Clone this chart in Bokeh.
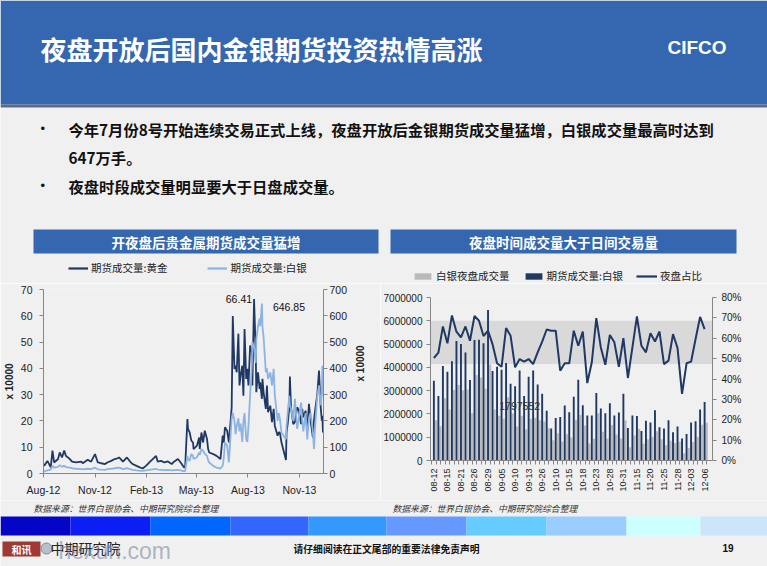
import math
import pandas as pd
from bokeh.plotting import figure
from bokeh.layouts import column, row
from bokeh.models import (Range1d, LinearAxis, FixedTicker, Legend, Label,
                          DatetimeTickFormatter, PrintfTickFormatter, ColumnDataSource,
                          BoxAnnotation)
from bokeh.transform import dodge
from bokeh.embed import file_html
from bokeh.resources import INLINE
from bokeh.core.properties import value

# ---------------- texts ----------------
title_text = "夜盘开放后国内金银期货投资热情高涨"
brand_text = "CIFCO"
bullet_1a = "今年7月份8号开始连续交易正式上线，夜盘开放后金银期货成交量猛增，白银成交量最高时达到"
bullet_1b = "647万手。"
bullet_2 = "夜盘时段成交量明显要大于日盘成交量。"
left_title = "开夜盘后贵金属期货成交量猛增"
right_title = "夜盘时间成交量大于日间交易量"
source_text = "数据来源：世界白银协会、中期研究院综合整理"
disclaimer = "请仔细阅读在正文尾部的重要法律免责声明"
page_no = "19"
axis_unit = "x 10000"

# ---------------- left chart data (x 10000 lots) ----------------
vol_dates = [
    "2012-08-02", "2012-08-08", "2012-08-14", "2012-08-17", "2012-08-20", "2012-08-27", "2012-08-30", "2012-09-03", "2012-09-07", "2012-09-10",
    "2012-09-17", "2012-09-21", "2012-09-28", "2012-10-08", "2012-10-10", "2012-10-19", "2012-10-25", "2012-11-01", "2012-11-06", "2012-11-12",
    "2012-11-19", "2012-11-23", "2012-11-30", "2012-12-06", "2012-12-10", "2012-12-14", "2012-12-21", "2012-12-28", "2013-01-04", "2013-01-07",
    "2013-01-14", "2013-01-18", "2013-01-25", "2013-01-31", "2013-02-06", "2013-02-18", "2013-02-21", "2013-02-27", "2013-03-05", "2013-03-11",
    "2013-03-18", "2013-03-22", "2013-03-29", "2013-04-03", "2013-04-09", "2013-04-11",
    "2013-04-15", "2013-04-16", "2013-04-19", "2013-04-22", "2013-04-25", "2013-04-26", "2013-05-02", "2013-05-06", "2013-05-07", "2013-05-10",
    "2013-05-13", "2013-05-16", "2013-05-20", "2013-05-22", "2013-05-24", "2013-05-31", "2013-06-06", "2013-06-13", "2013-06-17", "2013-06-19",
    "2013-06-21", "2013-06-25", "2013-06-28", "2013-07-03", "2013-07-05", "2013-07-08", "2013-07-10", "2013-07-12", "2013-07-15", "2013-07-17",
    "2013-07-19", "2013-07-22", "2013-07-24", "2013-07-26", "2013-07-29", "2013-07-31", "2013-08-02", "2013-08-05", "2013-08-08", "2013-08-09",
    "2013-08-12", "2013-08-15", "2013-08-16", "2013-08-19", "2013-08-22", "2013-08-23", "2013-08-26", "2013-08-27", "2013-08-29", "2013-09-02",
    "2013-09-04", "2013-09-06", "2013-09-10", "2013-09-13", "2013-09-16", "2013-09-18", "2013-09-23", "2013-09-25",
    "2013-09-27", "2013-09-30", "2013-10-08", "2013-10-09", "2013-10-11", "2013-10-14", "2013-10-15", "2013-10-17", "2013-10-21", "2013-10-24",
    "2013-10-28", "2013-10-31", "2013-11-04", "2013-11-06", "2013-11-08", "2013-11-12", "2013-11-15", "2013-11-18", "2013-11-21", "2013-11-25",
    "2013-11-27", "2013-11-29", "2013-12-03", "2013-12-06", "2013-12-09", "2013-12-11", "2013-12-12", "2013-12-13",
]
gold_vol = [
    2.9, 4.8, 2.3, 8.7, 4.2, 5.5, 8.0, 6.1, 8.7, 6.7,
    5.5, 4.5, 4.2, 4.5, 3.9, 5.2, 4.5, 7.4, 4.2, 3.9,
    3.6, 4.2, 4.8, 5.5, 5.7, 6.1, 4.5, 6.1, 4.2, 3.6,
    2.9, 2.5, 1.9, 2.9, 4.2, 6.7, 4.5, 4.8, 4.2, 4.6,
    3.6, 4.5, 5.5, 4.2, 2.3, 2.5,
    20.7, 17.0, 15.6, 12.5, 11.8, 9.3, 10.6, 13.7, 9.3, 15.6,
    11.8, 16.3, 13.1, 9.3, 8.0, 7.4, 6.7, 5.5, 14.4, 11.8,
    17.6, 16.3, 11.8, 25.0, 59.9, 39.8, 41.0, 38.5, 53.2, 33.5,
    37.3, 41.0, 29.6, 55.0, 36.0, 39.8, 33.5, 48.7, 46.2, 33.5,
    66.41, 46.2, 30.9, 38.5, 32.2, 34.7, 28.4, 36.0, 30.9, 24.6,
    33.5, 23.3, 25.8, 19.5, 24.6, 18.2, 14.4, 15.6,
    15.6, 11.8, 5.1, 15.6, 18.8, 25.2, 36.9, 25.2, 18.8, 19.5,
    25.2, 23.9, 18.8, 24.6, 21.4, 23.9, 16.3, 26.5, 20.1, 13.7,
    20.1, 23.9, 30.3, 39.2, 25.2, 20.1, 22.0, 15.6,
]
silver_vol = [
    8, 12, 15, 30, 22, 25, 32, 25, 30, 24,
    22, 20, 18, 17, 16, 18, 17, 22, 16, 15,
    14, 17, 18, 20, 21, 22, 17, 20, 16, 14,
    12, 11, 10, 12, 14, 18, 15, 14, 13, 14,
    12, 13, 14, 12, 8, 10,
    67, 55, 48, 74, 67, 55, 62, 80, 70, 93,
    87, 75, 67, 50, 42, 29, 22, 19, 29, 60,
    118, 106, 42, 210, 230, 200, 150, 180, 210, 160,
    190, 120, 200, 230, 130, 120, 180, 300, 410, 500,
    480, 420, 510, 560, 590, 560, 646.85, 560, 520, 385,
    400, 360, 385, 335, 398, 300, 200, 230,
    210, 156, 130, 180, 230, 296, 260, 246, 200, 284,
    170, 210, 270, 200, 160, 230, 130, 210, 230, 160,
    93, 180, 296, 335, 260, 300, 410, 300,
]
gold_name = "期货成交量:黄金"
silver_name = "期货成交量:白银"
left_x_start, left_x_end = "2012-08-01", "2013-12-14"
month_ticks = ["2012-08-01", "2012-11-01", "2013-02-01", "2013-05-01", "2013-08-01", "2013-11-01"]
gold_ticks = [0, 10, 20, 30, 40, 50, 60, 70]
silver_ticks = [0, 100, 200, 300, 400, 500, 600, 700]

# ---------------- right chart data ----------------
day_tick_labels = ["08-12", "08-15", "08-21", "08-26", "08-29", "09-05", "09-10", "09-13", "09-26", "10-10",
                   "10-15", "10-18", "10-23", "10-28", "10-31", "11-15", "11-20", "11-25", "11-28", "12-03", "12-06"]
silver_total = [
    3430000, 2770000, 4060000, 3810000, 4260000, 5130000, 5000000, 4640000, 3460000, 5170000,
    5190000, 5040000, 6468500, 3840000, 4030000, 3900000, 4190000, 3300000, 3190000, 3860000,
    2770000, 3600000, 3860000, 3260000, 2870000, 2140000, 1370000, 1830000, 1870000, 2360000,
    2070000, 2740000, 3470000, 2370000, 1930000, 1930000, 2900000, 2230000, 2030000, 2460000,
    1930000, 2060000, 2870000, 1400000, 1930000, 1910000, 1270000, 1710000, 1630000, 2160000,
    1430000, 1370000, 1730000, 1210000, 1460000, 940000, 1140000, 1630000, 1690000, 2190000,
    2510000,
]
night_vol = [
    1730000, 1470000, 2670000, 2190000, 3030000, 3240000, 3020000, 3050000, 2030000, 3670000,
    3560000, 3080000, 4120000, 2190000, 1920000, 1797552, 2720000, 2020000, 1460000, 1920000,
    1340000, 1790000, 1830000, 1730000, 1670000, 1380000, 870000, 1170000, 820000, 1130000,
    990000, 1750000, 1950000, 1500000, 730000, 930000, 2030000, 1240000, 950000, 1520000,
    1120000, 950000, 1720000, 570000, 1070000, 1350000, 720000, 910000, 1020000, 1260000,
    910000, 650000, 850000, 750000, 810000, 310000, 540000, 790000, 1010000, 1540000,
    1620000,
]
night_ratio = [
    50.3, 52.9, 65.8, 57.5, 71.2, 63.2, 60.4, 65.8, 58.8, 70.9,
    68.6, 61.1, 63.7, 57.1, 47.7, 46.0, 65.0, 61.2, 45.7, 49.8,
    48.5, 49.8, 47.3, 53.1, 58.3, 64.3, 63.7, 63.7, 44.1, 47.7,
    47.7, 63.7, 56.3, 63.3, 38.0, 48.2, 69.9, 55.5, 47.0, 61.6,
    58.0, 46.0, 60.1, 40.5, 55.5, 70.7, 56.3, 53.1, 62.5, 58.4,
    63.3, 47.3, 49.0, 62.0, 55.2, 32.7, 47.7, 48.5, 59.6, 70.5,
    64.5,
]
night_name = "白银夜盘成交量"
total_name = "期货成交量:白银"
ratio_name = "夜盘占比"
labelled_bar = 15
highlight_band = [4140000, 6000000]
volume_ticks = [0, 1000000, 2000000, 3000000, 4000000, 5000000, 6000000, 7000000]
ratio_ticks = [0, 10, 20, 30, 40, 50, 60, 70, 80]

# ---------------- footer strip ----------------
strip_edges = [0, 70, 150, 230, 308, 386, 466, 546, 626, 700, 767]
strip_colors = ["#0505C8", "#0A1EF5", "#0066FF", "#3366FF", "#3399FF", "#6699FF",
                "#66CCFF", "#99CCFF", "#CCFFFF", "#CCE5FA"]

# ---------------- style ----------------
BG = "#F0F0F0"
BLUE = "#3467AF"
NAVY = "#1F3864"
LIGHT = "#8DB3E2"
GRAYBAR = "#BABABA"
BAND = "#D9D9D9"
AXIS = "#868686"
CJK = "Noto Sans CJK SC"
LAT = "Liberation Sans"
TOP_H = 283


def ms(s):
    return float(pd.Timestamp(s).value / 1e6)


def deco_fig(w, h, y0, y1):
    p = figure(width=w, height=h, x_range=Range1d(0, w), y_range=Range1d(y1, y0),
               x_axis_location=None, y_axis_location=None, toolbar_location=None,
               output_backend="svg", min_border=0)
    p.grid.visible = False
    p.outline_line_color = None
    p.background_fill_color = BG
    p.border_fill_color = BG
    return p


def style_axis(ax, size="10.5px"):
    ax.axis_line_color = AXIS
    ax.major_tick_line_color = AXIS
    ax.minor_tick_line_color = None
    ax.major_tick_in = 0
    ax.major_tick_out = 4
    ax.major_label_text_font = LAT
    ax.major_label_text_font_size = size
    ax.major_label_text_color = "#222222"
    ax.axis_label_text_font = LAT
    ax.axis_label_text_font_size = "10px"
    ax.axis_label_text_font_style = "bold"
    ax.axis_label_text_color = "#222222"


def make_legend(items, loc, gw, gh, spacing):
    return Legend(items=items, location=loc, orientation="horizontal", glyph_width=gw,
                  glyph_height=gh, label_height=12, label_standoff=3, spacing=spacing,
                  padding=0, margin=0, label_text_font=CJK, label_text_font_size="10.5px",
                  label_text_color="#222222", background_fill_alpha=0, border_line_color=None)


# ================= top decoration (incl. legends) =================
top = deco_fig(767, TOP_H, 0, TOP_H)
top.quad(left=[0], right=[767], top=[0], bottom=[104], fill_color=BLUE, line_color=None)
top.quad(left=[0], right=[767], top=[104], bottom=[107], fill_color="#5A6D88", line_color=None)
top.text(x=[40], y=[48], text=[title_text], text_font=value(CJK), text_font_style="bold",
         text_font_size="26px", text_color="white", text_baseline="middle")
top.text(x=[667], y=[47], text=[brand_text], text_font=value(LAT), text_font_style="bold",
         text_font_size="19px", text_color="white", text_baseline="middle")
top.text(x=[40, 40], y=[128, 185], text=["•", "•"], text_font=value(LAT),
         text_font_size="13px", text_color="#111111", text_baseline="middle")
top.text(x=[68, 68, 68], y=[128, 156, 185], text=[bullet_1a, bullet_1b, bullet_2],
         text_font=value(CJK), text_font_style="bold", text_font_size="15.3px",
         text_color="#111111", text_baseline="middle")
top.quad(left=[33, 390], right=[378, 736], top=[229, 229], bottom=[253, 253],
         fill_color=BLUE, line_color=None)
top.text(x=[205.5, 563], y=[241, 241], text=[left_title, right_title], text_font=value(CJK),
         text_font_style="bold", text_font_size="13.5px", text_color="white",
         text_baseline="middle", text_align="center")

# legend keys: off-canvas stand-ins styled like the chart series
off = [-60, -50]
k_gold = top.line(x=off, y=off, line_color=NAVY, line_width=2.2)
k_silver = top.line(x=off, y=off, line_color=LIGHT, line_width=2.2)
k_night = top.vbar(x=off, top=off, bottom=[-70, -70], width=1, fill_color=GRAYBAR, line_color=None)
k_total = top.vbar(x=off, top=off, bottom=[-70, -70], width=1, fill_color=NAVY, line_color=None)
k_ratio = top.line(x=off, y=off, line_color=NAVY, line_width=2.2)
top.add_layout(make_legend([(gold_name, [k_gold]), (silver_name, [k_silver])],
                           (68, 8), 20, 12, 40), "center")
top.add_layout(make_legend([(night_name, [k_night]), (total_name, [k_total]), (ratio_name, [k_ratio])],
                           (412, 0), 21, 8, 13), "center")

# ================= left chart =================
lsrc = ColumnDataSource(dict(date=pd.to_datetime(vol_dates), gold=gold_vol, silver=silver_vol))
left = figure(width=380, height=500 - TOP_H, x_axis_type="datetime",
              x_range=Range1d(pd.Timestamp(left_x_start), pd.Timestamp(left_x_end)),
              y_range=Range1d(gold_ticks[0], gold_ticks[-1]),
              toolbar_location=None, output_backend="svg",
              min_border_left=43, min_border_right=57, min_border_top=6, min_border_bottom=27)
left.background_fill_color = BG
left.border_fill_color = BG
left.outline_line_color = None
left.grid.visible = False
left.extra_y_ranges = {"silver": Range1d(silver_ticks[0], silver_ticks[-1])}

xa = left.xaxis[0]
style_axis(xa)
xa.ticker = FixedTicker(ticks=[ms(t) for t in month_ticks])
fmt = "%b-%y"
xa.formatter = DatetimeTickFormatter(years=fmt, months=fmt, days=fmt, hours=fmt, hourmin=fmt,
                                     minutes=fmt, minsec=fmt, seconds=fmt, milliseconds=fmt,
                                     microseconds=fmt)
xa.major_label_standoff = 6

ya = left.yaxis[0]
style_axis(ya)
ya.ticker = FixedTicker(ticks=gold_ticks)
ya.major_label_standoff = 7
ya.axis_label = axis_unit
ya.axis_label_standoff = 3

ra = LinearAxis(y_range_name="silver", ticker=FixedTicker(ticks=silver_ticks))
style_axis(ra)
ra.major_label_standoff = 2
ra.axis_label = axis_unit
ra.axis_label_standoff = 10
if "axis_label_orientation" in ra.properties():
    ra.axis_label_orientation = math.pi / 2
left.add_layout(ra, "right")

left.line("date", "gold", source=lsrc, line_color=NAVY, line_width=1.8)
left.line("date", "silver", source=lsrc, y_range_name="silver", line_color=LIGHT, line_width=1.8)

gi = max(range(len(gold_vol)), key=lambda i: gold_vol[i])
si = max(range(len(silver_vol)), key=lambda i: silver_vol[i])
left.add_layout(Label(x=ms(vol_dates[gi]), y=gold_vol[gi], text=f"{gold_vol[gi]:.2f}",
                      x_offset=-2, text_align="right", text_baseline="middle",
                      text_font=LAT, text_font_size="10.5px", text_color="#111111"))
left.add_layout(Label(x=ms(vol_dates[si]), y=silver_vol[si], y_range_name="silver",
                      text=f"{silver_vol[si]:.2f}", x_offset=11, y_offset=-4,
                      text_align="left", text_baseline="middle",
                      text_font=LAT, text_font_size="10.5px", text_color="#111111"))

# ================= right chart =================
idx = list(range(len(silver_total)))
rsrc = ColumnDataSource(dict(idx=idx, total=silver_total, night=night_vol, ratio=night_ratio))
rfig = figure(width=387, height=500 - TOP_H, x_range=Range1d(-0.75, len(idx) + 0.75),
              y_range=Range1d(volume_ticks[0], volume_ticks[-1]),
              toolbar_location=None, output_backend="svg",
              min_border_left=48, min_border_right=55, min_border_top=14, min_border_bottom=40)
rfig.background_fill_color = BG
rfig.border_fill_color = BG
rfig.outline_line_color = None
rfig.grid.visible = False
rfig.extra_y_ranges = {"pct": Range1d(ratio_ticks[0], ratio_ticks[-1])}

rfig.add_layout(BoxAnnotation(bottom=highlight_band[0], top=highlight_band[1], fill_color=BAND,
                              fill_alpha=1, line_color=None, level="underlay"))

rfig.vbar(x=dodge("idx", 0.47, range=rfig.x_range), top="night", width=0.5, source=rsrc,
          fill_color=GRAYBAR, line_color=None)
rfig.vbar(x="idx", top="total", width=0.42, source=rsrc, fill_color=NAVY, line_color=None)
rfig.line("idx", "ratio", source=rsrc, y_range_name="pct", line_color=NAVY, line_width=2)

bx = rfig.xaxis[0]
style_axis(bx, "9px")
tick_idx = idx[::3]
bx.ticker = FixedTicker(ticks=tick_idx, minor_ticks=[i - 0.5 for i in range(len(idx) + 1)])
bx.major_label_overrides = {i: lab for i, lab in zip(tick_idx, day_tick_labels)}
bx.major_label_orientation = math.pi / 2
bx.major_tick_out = 0
bx.minor_tick_line_color = AXIS
bx.minor_tick_in = 0
bx.minor_tick_out = 4
bx.major_label_standoff = 4

ly = rfig.yaxis[0]
style_axis(ly, "10px")
ly.ticker = FixedTicker(ticks=volume_ticks)
ly.formatter = PrintfTickFormatter(format="%d")
ly.major_label_standoff = 4

py = LinearAxis(y_range_name="pct", ticker=FixedTicker(ticks=ratio_ticks),
                formatter=PrintfTickFormatter(format="%d%%"))
style_axis(py, "10px")
py.major_label_standoff = 5
rfig.add_layout(py, "right")

rfig.add_layout(Label(x=labelled_bar + 0.47, y=night_vol[labelled_bar], text=str(night_vol[labelled_bar]),
                      x_offset=16, y_offset=13, text_align="center", text_baseline="middle",
                      text_font=LAT, text_font_size="10.5px", text_color="#333333"))

# ================= bottom decoration =================
bot = deco_fig(767, 66, 500, 566)
bot.text(x=[33, 392], y=[508, 508], text=[source_text, source_text], text_font=value(CJK),
         text_font_style="italic", text_font_size="8.8px", text_color="#333333",
         text_baseline="middle")
bot.quad(left=strip_edges[:-1], right=strip_edges[1:], top=[516] * 10, bottom=[535] * 10,
         fill_color=strip_colors, line_color=None)
bot.quad(left=[2], right=[40], top=[541], bottom=[556], fill_color="#9E3A33", line_color=None)
bot.text(x=[21], y=[548.5], text=["和讯"], text_font=value(CJK), text_font_style="bold",
         text_font_size="10px", text_color="white", text_baseline="middle", text_align="center")
bot.scatter(x=[46], y=[548], size=11, fill_color="#B8C0CC", line_color="#7F8A9C")
bot.text(x=[50], y=[547], text=["中期研究院"], text_font=value(CJK), text_font_size="14px",
         text_color="#222222", text_baseline="middle")
bot.text(x=[58], y=[550], text=["hexun.com"], text_font=value(LAT), text_font_size="23px",
         text_color="#6F7F9C", text_alpha=0.55, text_baseline="middle")
bot.text(x=[293], y=[548], text=[disclaimer], text_font=value(CJK), text_font_style="bold",
         text_font_size="9.8px", text_color="#111111", text_baseline="middle")
bot.text(x=[722], y=[547], text=[page_no], text_font=value(LAT), text_font_style="bold",
         text_font_size="10px", text_color="#111111", text_baseline="middle")

layout = column(top, row(column(left), column(rfig)), bot)
open("out.html", "w").write(file_html(layout, INLINE))
